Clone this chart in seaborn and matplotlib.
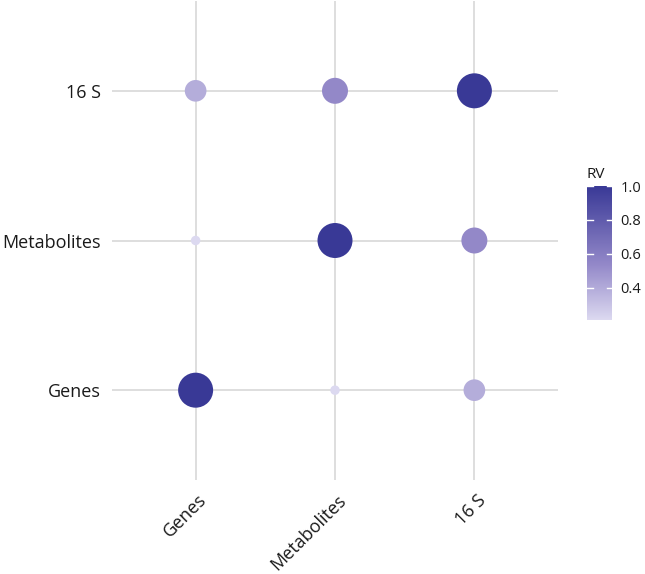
import numpy as np
import pandas as pd
import matplotlib
matplotlib.use("Agg")
import matplotlib.pyplot as plt
import matplotlib.transforms as mtransforms
import seaborn as sns
from matplotlib.colors import LinearSegmentedColormap, Normalize

# ---- data ----
blocks = ["Genes", "Metabolites", "16 S"]
x_block = ["Genes", "Genes", "Genes",
           "Metabolites", "Metabolites", "Metabolites",
           "16 S", "16 S", "16 S"]
y_block = ["Genes", "Metabolites", "16 S",
           "Genes", "Metabolites", "16 S",
           "Genes", "Metabolites", "16 S"]
rv = [1.00, 0.21, 0.39,
      0.21, 1.00, 0.54,
      0.39, 0.54, 1.00]
cbar_ticks = [0.4, 0.6, 0.8, 1.0]

df = pd.DataFrame({"x": x_block, "y": y_block, "RV": rv})
df["xi"] = df["x"].map({b: i for i, b in enumerate(blocks)})
df["yi"] = df["y"].map({b: i for i, b in enumerate(blocks)})

vmin, vmax = min(rv), max(rv)
cmap = LinearSegmentedColormap.from_list(
    "rv", [(0.0, "#dcd9f0"), (0.42, "#9287c8"), (1.0, "#393996")])
norm = Normalize(vmin=vmin, vmax=vmax)

# area-style size scale (diameter in px -> points^2)
def size_of(v):
    frac = (v - vmin) / (vmax - vmin)
    d_px = 9.5 + 25.5 * np.sqrt(frac)
    return (d_px * 72 / 100) ** 2

size_map = {v: size_of(v) for v in sorted(set(rv))}

plt.rcParams["font.family"] = ["Open Sans", "DejaVu Sans"]
fig = plt.figure(figsize=(6.45, 5.74), dpi=100)
ax = fig.add_axes([112 / 645, 94 / 574, 446 / 645, 479 / 574])

sns.scatterplot(data=df, x="xi", y="yi", hue="RV", size="RV",
                palette=cmap, hue_norm=norm, sizes=size_map,
                linewidth=0, legend=False, ax=ax, zorder=3)

ax.set_xlim(-0.6, 2.6)
ax.set_ylim(-0.6, 2.6)
ax.set_xticks(range(3))
ax.set_yticks(range(3))
ax.set_yticklabels(blocks, fontsize=13, color="#1a1a1a")
ax.set_xticklabels(blocks, fontsize=13, color="#1a1a1a",
                   rotation=45, ha="right", rotation_mode="anchor")
ax.tick_params(axis="both", length=0)
ax.tick_params(axis="x", pad=8)
ax.tick_params(axis="y", pad=8)
offset = mtransforms.ScaledTranslation(2 / 100, 0, fig.dpi_scale_trans)
for lab in ax.get_xticklabels():
    lab.set_transform(lab.get_transform() + offset)
ax.grid(True, color="#dedede", linewidth=1.4, zorder=0)
ax.set_axisbelow(True)
for s in ax.spines.values():
    s.set_visible(False)
ax.set_xlabel("")
ax.set_ylabel("")

# colorbar
cax = fig.add_axes([587 / 645, (574 - 320) / 574, 25 / 645, 134 / 574])
sm = plt.cm.ScalarMappable(norm=norm, cmap=cmap)
cb = fig.colorbar(sm, cax=cax, ticks=cbar_ticks)
cb.outline.set_visible(False)
cb.ax.tick_params(length=0, labelsize=10.5, pad=6, colors="#1a1a1a")
for t in cbar_ticks:
    cax.plot([0, 0.22], [t, t], color="white", lw=1.0, transform=cax.get_yaxis_transform())
    cax.plot([0.78, 1], [t, t], color="white", lw=1.0, transform=cax.get_yaxis_transform())
cax.set_title("RV", fontsize=11, loc="left", pad=6, color="#1a1a1a")

fig.savefig("out.png", dpi=100)
